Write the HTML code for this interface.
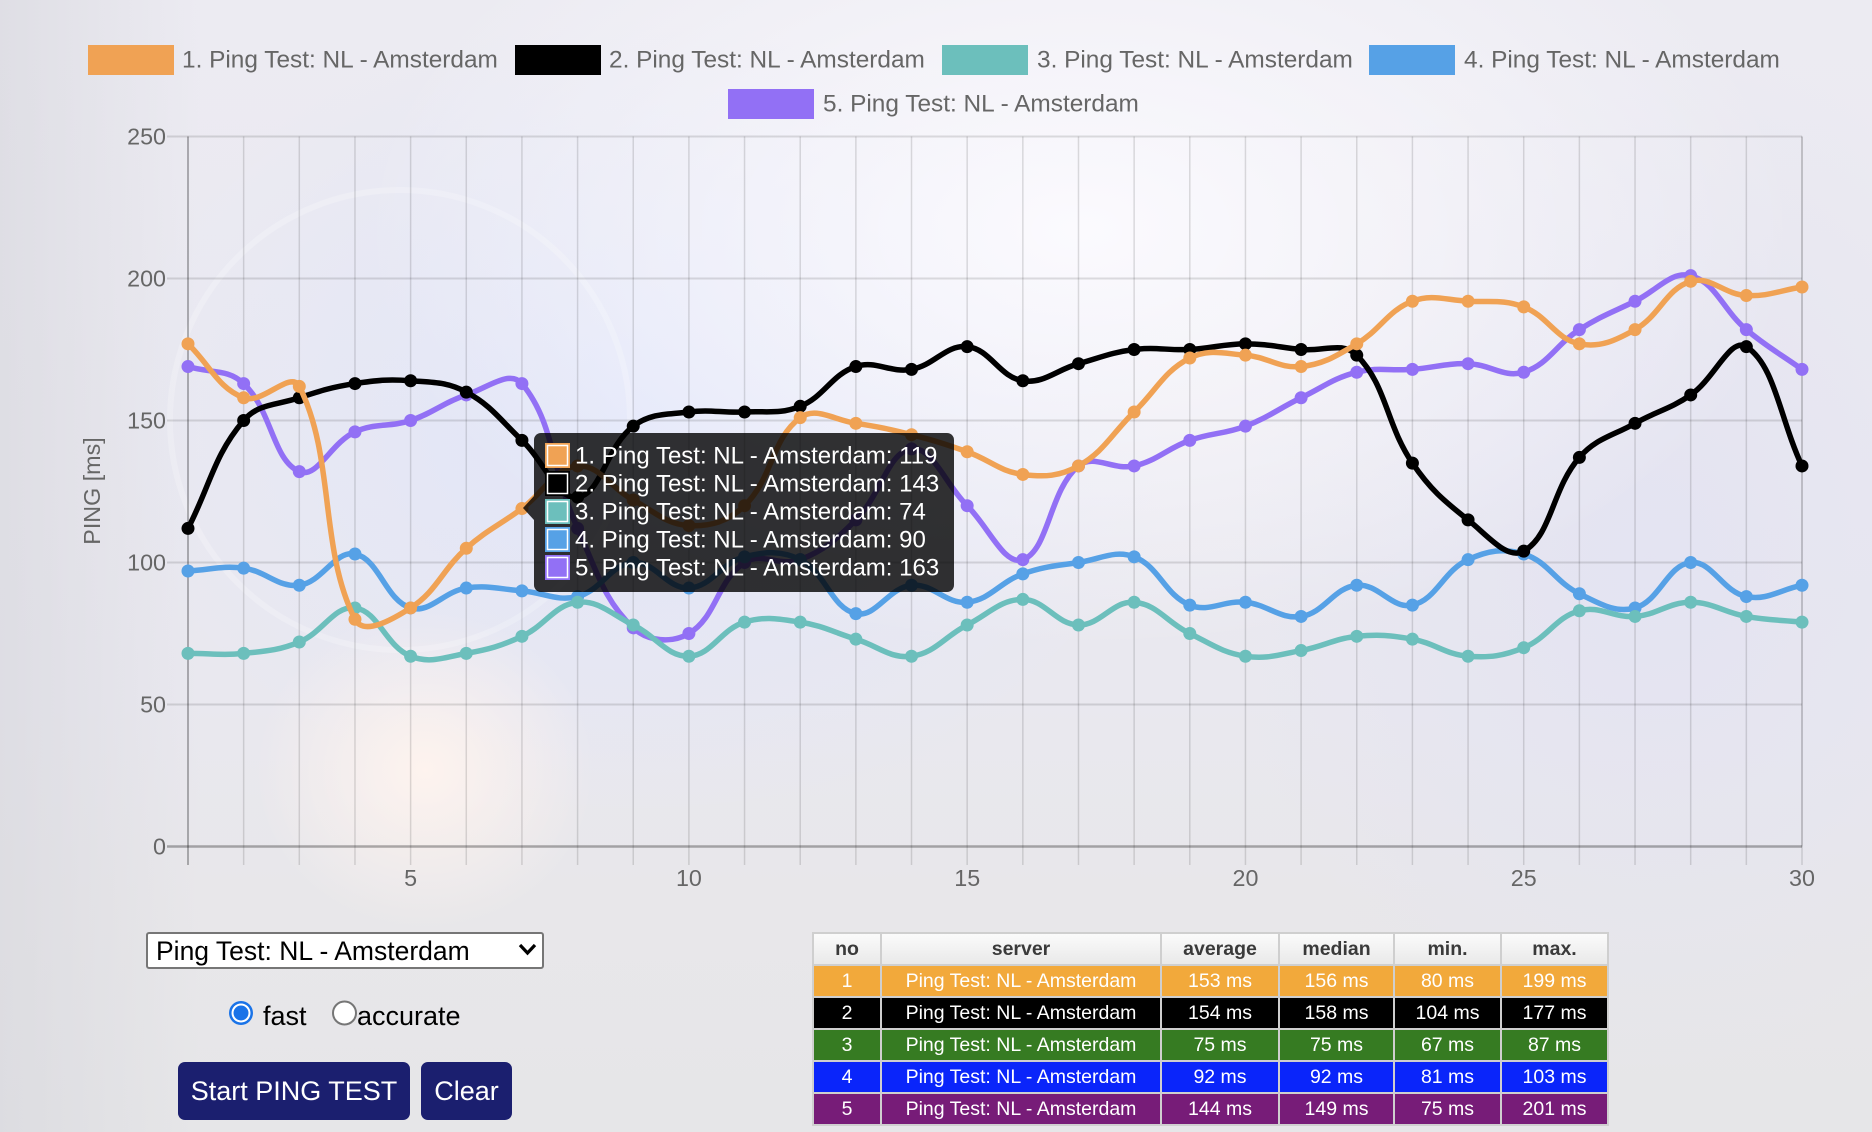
<!DOCTYPE html>
<html><head><meta charset="utf-8">
<style>
html,body{margin:0;padding:0;width:1872px;height:1132px;overflow:hidden;}
body{position:relative;font-family:"Liberation Sans",Arial,sans-serif;
background:
 radial-gradient(ellipse 170px 160px at 425px 770px, rgba(255,244,238,0.95), rgba(255,244,238,0) 100%),
 radial-gradient(ellipse 720px 420px at 1080px 230px, rgba(252,251,255,0.95), rgba(252,251,255,0) 100%),
 radial-gradient(ellipse 540px 400px at 640px 420px, rgba(224,229,250,0.9), rgba(224,229,250,0) 100%),
 radial-gradient(ellipse 420px 520px at 1650px 560px, rgba(226,226,242,0.8), rgba(226,226,242,0) 100%),
 linear-gradient(to right, rgba(214,214,220,0.6), rgba(214,214,220,0) 200px),
 linear-gradient(to bottom, #ecebf2 0px, #e9e8ef 700px, #e8e7ea 900px, #e6e6e8 1132px);}
svg.main{position:absolute;left:0;top:0;}
.sel{position:absolute;left:146px;top:932px;width:394px;height:33px;border:2px solid #767676;border-radius:3px;background:#fff;}
.sel span{position:absolute;left:8px;top:3px;font-size:26.5px;color:#000;line-height:28px;white-space:nowrap;}
.btn{position:absolute;top:1062px;height:58px;background:#1b1f6f;border-radius:7px;color:#fff;font-size:27px;line-height:58px;text-align:center;white-space:nowrap;}
.lbl{position:absolute;top:1001px;font-size:27px;color:#000;line-height:30px;white-space:nowrap;}
.tbl{position:absolute;left:812px;top:932px;width:793px;height:190px;padding:2px;background:#cfcfcf;display:grid;
 grid-template-columns:66px 278px 116px 113px 105px 105px;grid-template-rows:repeat(6,30px);gap:2px;}
.tbl div{display:flex;align-items:center;justify-content:center;font-size:19.5px;color:#fff;white-space:nowrap;}
.tbl .h{background:linear-gradient(#fbfbfb,#e9e9e9);color:#3a3a3a;font-weight:bold;}
.r1{background:#f2a93b;} .r2{background:#000;} .r3{background:#367b22;} .r4{background:#0a25fa;} .r5{background:#771c78;}
</style></head>
<body>
<svg class="main" width="1872" height="1132" viewBox="0 0 1872 1132">
 <g fill="none" stroke="rgba(255,255,255,0.22)" stroke-width="6">
  <circle cx="400" cy="420" r="230"/>
 </g>
 <g id="grid" stroke="rgba(0,0,0,0.13)" stroke-width="1.5" fill="none"></g>
 <g stroke="rgba(0,0,0,0.12)" stroke-width="2">
  <line x1="167" y1="136.5" x2="1802" y2="136.5"/>
  <line x1="167" y1="278.5" x2="1802" y2="278.5"/>
  <line x1="167" y1="420.5" x2="1802" y2="420.5"/>
  <line x1="167" y1="562.5" x2="1802" y2="562.5"/>
  <line x1="167" y1="704.5" x2="1802" y2="704.5"/>
 </g>
 <line x1="167" y1="846.5" x2="1802" y2="846.5" stroke="rgba(0,0,0,0.3)" stroke-width="2.5"/>
 <line x1="188" y1="136.5" x2="188" y2="865" stroke="rgba(0,0,0,0.2)" stroke-width="2"/>
 <g font-family="Liberation Sans, Arial, sans-serif" font-size="23.3" fill="#666" text-anchor="end" dominant-baseline="central">
  <text x="166" y="136.5">250</text>
  <text x="166" y="278.5">200</text>
  <text x="166" y="420.5">150</text>
  <text x="166" y="562.5">100</text>
  <text x="166" y="704.5">50</text>
  <text x="166" y="846.5">0</text>
 </g>
 <g font-family="Liberation Sans, Arial, sans-serif" font-size="23.3" fill="#666" text-anchor="middle" dominant-baseline="central">
  <text x="410.6" y="878">5</text>
  <text x="688.9" y="878">10</text>
  <text x="967.2" y="878">15</text>
  <text x="1245.5" y="878">20</text>
  <text x="1523.7" y="878">25</text>
  <text x="1802" y="878">30</text>
 </g>
 <text x="92" y="491" transform="rotate(-90 92 491)" font-family="Liberation Sans, Arial, sans-serif" font-size="23.3" fill="#666" text-anchor="middle" dominant-baseline="central">PING [ms]</text>
 <!-- legend -->
 <g font-family="Liberation Sans, Arial, sans-serif" font-size="24.4" fill="#666" dominant-baseline="central">
  <rect x="88" y="45" width="86" height="30" fill="#f0a254"/><text x="182" y="60">1. Ping Test: NL - Amsterdam</text>
  <rect x="515" y="45" width="86" height="30" fill="#000"/><text x="609" y="60">2. Ping Test: NL - Amsterdam</text>
  <rect x="942" y="45" width="86" height="30" fill="#6cbfbc"/><text x="1037" y="60">3. Ping Test: NL - Amsterdam</text>
  <rect x="1369" y="45" width="86" height="30" fill="#56a1e6"/><text x="1464" y="60">4. Ping Test: NL - Amsterdam</text>
  <rect x="728" y="89" width="86" height="30" fill="#9270f5"/><text x="823" y="104">5. Ping Test: NL - Amsterdam</text>
 </g>
 <g id="lines"></g>
 <!-- tooltip -->
 <g>
  <rect x="534" y="433" width="420" height="159" rx="7" fill="rgba(0,0,0,0.8)"/>
  <polygon points="534,496 523,508 534,520" fill="rgba(0,0,0,0.8)"/>
  <rect x="545" y="443" width="25" height="25" fill="#f0a254"/><rect x="547.5" y="445.5" width="20" height="20" fill="none" stroke="#fff" stroke-width="1.5"/>
  <rect x="545" y="471" width="25" height="25" fill="#000"/><rect x="547.5" y="473.5" width="20" height="20" fill="none" stroke="#fff" stroke-width="1.5"/>
  <rect x="545" y="499" width="25" height="25" fill="#6cbfbc"/><rect x="547.5" y="501.5" width="20" height="20" fill="none" stroke="#fff" stroke-width="1.5"/>
  <rect x="545" y="527" width="25" height="25" fill="#56a1e6"/><rect x="547.5" y="529.5" width="20" height="20" fill="none" stroke="#fff" stroke-width="1.5"/>
  <rect x="545" y="555" width="25" height="25" fill="#9270f5"/><rect x="547.5" y="557.5" width="20" height="20" fill="none" stroke="#fff" stroke-width="1.5"/>
  <g font-family="Liberation Sans, Arial, sans-serif" font-size="24" fill="#fff" dominant-baseline="central">
   <text x="575" y="456">1. Ping Test: NL - Amsterdam: 119</text>
   <text x="575" y="484">2. Ping Test: NL - Amsterdam: 143</text>
   <text x="575" y="512">3. Ping Test: NL - Amsterdam: 74</text>
   <text x="575" y="540">4. Ping Test: NL - Amsterdam: 90</text>
   <text x="575" y="568">5. Ping Test: NL - Amsterdam: 163</text>
  </g>
 </g>
 <!-- radios -->
 <circle cx="241" cy="1013" r="12" fill="#1a73e8"/>
 <circle cx="241" cy="1013" r="9.5" fill="#fff"/>
 <circle cx="241" cy="1013" r="7.5" fill="#1a73e8"/>
 <circle cx="344.5" cy="1013" r="11.5" fill="#fff" stroke="#767676" stroke-width="2"/>
</svg>

<div class="sel"><span>Ping Test: NL - Amsterdam</span></div>
<svg style="position:absolute;left:0;top:0" width="1872" height="1132"><polyline points="520,945 527.5,953 535,945" fill="none" stroke="#000" stroke-width="3.2"/></svg>
<div class="lbl" style="left:263px">fast</div>
<div class="lbl" style="left:357px">accurate</div>
<div class="btn" style="left:178px;width:232px">Start PING TEST</div>
<div class="btn" style="left:421px;width:91px">Clear</div>

<div class="tbl">
 <div class="h">no</div><div class="h">server</div><div class="h">average</div><div class="h">median</div><div class="h">min.</div><div class="h">max.</div>
 <div class="r1">1</div><div class="r1">Ping Test: NL - Amsterdam</div><div class="r1">153 ms</div><div class="r1">156 ms</div><div class="r1">80 ms</div><div class="r1">199 ms</div>
 <div class="r2">2</div><div class="r2">Ping Test: NL - Amsterdam</div><div class="r2">154 ms</div><div class="r2">158 ms</div><div class="r2">104 ms</div><div class="r2">177 ms</div>
 <div class="r3">3</div><div class="r3">Ping Test: NL - Amsterdam</div><div class="r3">75 ms</div><div class="r3">75 ms</div><div class="r3">67 ms</div><div class="r3">87 ms</div>
 <div class="r4">4</div><div class="r4">Ping Test: NL - Amsterdam</div><div class="r4">92 ms</div><div class="r4">92 ms</div><div class="r4">81 ms</div><div class="r4">103 ms</div>
 <div class="r5">5</div><div class="r5">Ping Test: NL - Amsterdam</div><div class="r5">144 ms</div><div class="r5">149 ms</div><div class="r5">75 ms</div><div class="r5">201 ms</div>
</div>

<script>
(function(){
var X0=188,DX=(1802-188)/29,Y0=846.5,SY=710/250;
var S=[
['#f0a254',[177,158,162,80,84,105,119,134,122,113,120,151,149,145,139,131,134,153,172,173,169,177,192,192,190,177,182,199,194,197]],
['#000000',[112,150,158,163,164,160,143,123,148,153,153,155,169,168,176,164,170,175,175,177,175,173,135,115,104,137,149,159,176,134]],
['#6cbfbc',[68,68,72,84,67,68,74,86,78,67,79,79,73,67,78,87,78,86,75,67,69,74,73,67,70,83,81,86,81,79]],
['#56a1e6',[97,98,92,103,84,91,90,88,100,91,102,101,82,92,86,96,100,102,85,86,81,92,85,101,103,89,84,100,88,92]],
['#9270f5',[169,163,132,146,150,159,163,112,77,75,100,101,115,140,120,101,134,134,143,148,158,167,168,170,167,182,192,201,182,168]]
];
var grid='';
for(var i=0;i<30;i++){var x=(X0+i*DX).toFixed(2);grid+='<line x1="'+x+'" y1="136.5" x2="'+x+'" y2="865"/>';}
grid+='<line x1="1802" y1="136.5" x2="1802" y2="846.5"/>';
document.getElementById('grid').innerHTML=grid;
function cl(v,a,b){return Math.max(a,Math.min(b,v));}
var out='';
for(var s=S.length-1;s>=0;s--){
 var col=S[s][0],v=S[s][1],p=[];
 for(var i=0;i<v.length;i++)p.push({x:X0+i*DX,y:Y0-v[i]*SY});
 var cp=[];
 for(var i=0;i<p.length;i++){
  var a=p[i>0?i-1:i],b=p[i],c=p[i<p.length-1?i+1:i];
  var d01=Math.hypot(b.x-a.x,b.y-a.y),d12=Math.hypot(c.x-b.x,c.y-b.y);
  var s01=d01/(d01+d12),s12=d12/(d01+d12);
  if(isNaN(s01))s01=0;if(isNaN(s12))s12=0;
  var fa=0.4*s01,fb=0.4*s12;
  cp.push({px:cl(b.x-fa*(c.x-a.x),188,1802),py:cl(b.y-fa*(c.y-a.y),136.5,846.5),nx:cl(b.x+fb*(c.x-a.x),188,1802),ny:cl(b.y+fb*(c.y-a.y),136.5,846.5)});
 }
 var d='M'+p[0].x.toFixed(2)+' '+p[0].y.toFixed(2);
 for(var i=0;i<p.length-1;i++){
  d+='C'+cp[i].nx.toFixed(2)+' '+cp[i].ny.toFixed(2)+' '+cp[i+1].px.toFixed(2)+' '+cp[i+1].py.toFixed(2)+' '+p[i+1].x.toFixed(2)+' '+p[i+1].y.toFixed(2);
 }
 out+='<path d="'+d+'" fill="none" stroke="'+col+'" stroke-width="5.5" stroke-linejoin="round" stroke-linecap="round"/>';
 for(var i=0;i<p.length;i++)out+='<circle cx="'+p[i].x.toFixed(2)+'" cy="'+p[i].y.toFixed(2)+'" r="6.5" fill="'+col+'"/>';
}
document.getElementById('lines').innerHTML=out;
})();
</script>
</body></html>
